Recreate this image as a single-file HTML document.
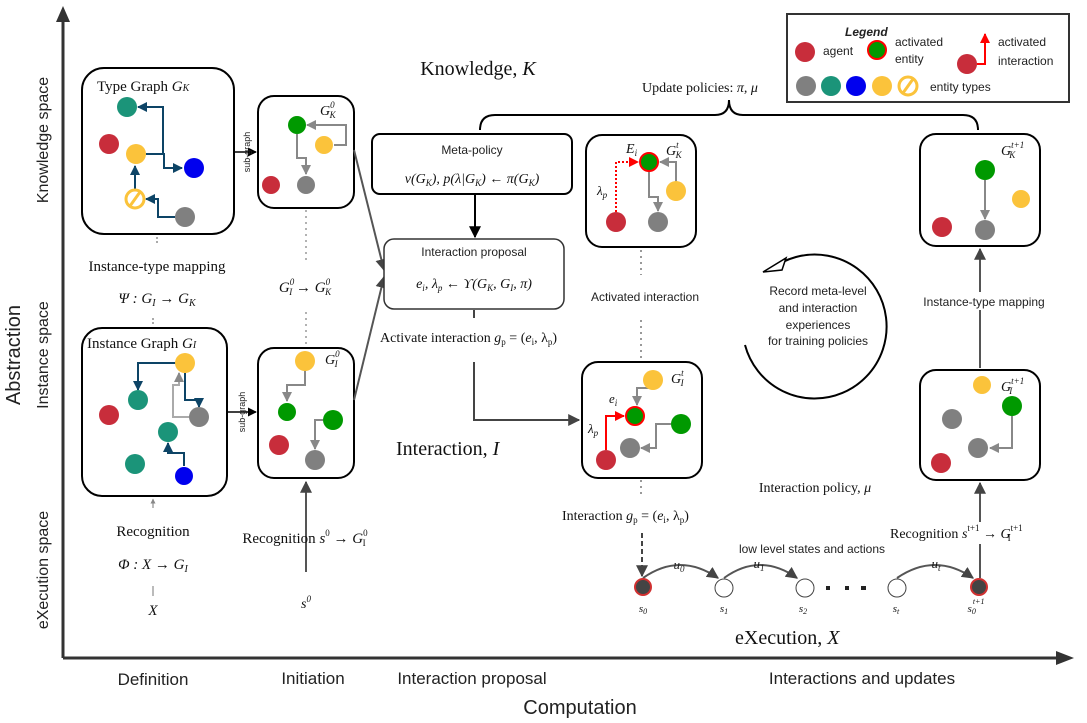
<!DOCTYPE html><html><head><meta charset="utf-8"><style>body{margin:0;background:#fff}svg{display:block}
.t{font-family:"Liberation Serif",serif;fill:#111}.s{font-family:"Liberation Sans",sans-serif;fill:#222}</style></head><body>
<svg width="1087" height="723" viewBox="0 0 1087 723" xmlns="http://www.w3.org/2000/svg">
<defs>
<marker id="a" viewBox="0 0 10 10" refX="9" refY="5" markerWidth="6" markerHeight="6" orient="auto"><path d="M0,0L10,5L0,10z" fill="#444"/></marker>
<marker id="b" viewBox="0 0 10 10" refX="9" refY="5" markerWidth="5" markerHeight="5" orient="auto"><path d="M0,0L10,5L0,10z" fill="#0d4466"/></marker>
<marker id="g" viewBox="0 0 10 10" refX="9" refY="5" markerWidth="5" markerHeight="5" orient="auto"><path d="M0,0L10,5L0,10z" fill="#888"/></marker>
<marker id="r" viewBox="0 0 10 10" refX="9" refY="5" markerWidth="5" markerHeight="5" orient="auto"><path d="M0,0L10,5L0,10z" fill="#f00"/></marker>
<marker id="k" viewBox="0 0 10 10" refX="9" refY="5" markerWidth="6" markerHeight="6" orient="auto"><path d="M0,0L10,5L0,10z" fill="#000"/></marker>
</defs>
<!-- axes -->
<line x1="63" y1="658" x2="63" y2="14" stroke="#333" stroke-width="3"/><path d="M56,22L63,6L70,22z" fill="#333"/>
<line x1="63" y1="658" x2="1062" y2="658" stroke="#333" stroke-width="3"/><path d="M1056,651L1074,658L1056,665z" fill="#333"/>
<text class="s" font-size="20" transform="translate(20,355) rotate(-90)" text-anchor="middle">Abstraction</text>
<text class="s" font-size="16" transform="translate(48,140) rotate(-90)" text-anchor="middle">Knowledge space</text>
<text class="s" font-size="16" transform="translate(48,355) rotate(-90)" text-anchor="middle">Instance space</text>
<text class="s" font-size="16" transform="translate(48,570) rotate(-90)" text-anchor="middle">eXecution space</text>
<text class="s" font-size="20" x="580" y="714" text-anchor="middle">Computation</text>
<text class="s" font-size="17" x="153" y="685" text-anchor="middle">Definition</text>
<text class="s" font-size="17" x="313" y="684" text-anchor="middle">Initiation</text>
<text class="s" font-size="17" x="472" y="684" text-anchor="middle">Interaction proposal</text>
<text class="s" font-size="17" x="862" y="684" text-anchor="middle">Interactions and updates</text>

<!-- Type graph -->
<rect x="82" y="68" width="152" height="166" rx="22" fill="#fff" stroke="#000" stroke-width="2"/>
<text class="t" font-size="15" x="97" y="91">Type Graph <tspan font-style="italic">G</tspan><tspan font-size="10" font-style="italic">K</tspan></text>
<g fill="none" stroke="#0d4466" stroke-width="2">
<path d="M146,154H163V107H138" marker-end="url(#b)"/>
<path d="M146,154H164V168H182" marker-end="url(#b)"/>
<path d="M135,189V166" marker-end="url(#b)"/>
<path d="M175,217H158V199H146" marker-end="url(#b)"/>
</g>
<circle cx="127" cy="107" r="10" fill="#1b9479"/><circle cx="109" cy="144" r="10" fill="#c82d3b"/>
<circle cx="136" cy="154" r="10" fill="#fbc33b"/><circle cx="194" cy="168" r="10" fill="#0000ee"/>
<circle cx="135" cy="199" r="9" fill="#fff" stroke="#fbc33b" stroke-width="3"/><line x1="130" y1="206" x2="140" y2="192" stroke="#fbc33b" stroke-width="3"/>
<circle cx="185" cy="217" r="10" fill="#808080"/>
<line x1="157" y1="237" x2="157" y2="245" stroke="#555" stroke-dasharray="2,2"/>
<text class="t" font-size="15" x="157" y="271" text-anchor="middle">Instance-type mapping</text>
<text class="t" font-size="15" x="157" y="303" text-anchor="middle" font-style="italic">Ψ : G<tspan font-size="10" dy="3">I</tspan><tspan dy="-3"> → G</tspan><tspan font-size="10" dy="3">K</tspan></text>
<line x1="153" y1="318" x2="153" y2="326" stroke="#555" stroke-dasharray="2,2"/>

<!-- Instance graph -->
<rect x="82" y="328" width="145" height="168" rx="20" fill="#fff" stroke="#000" stroke-width="2"/>
<text class="t" font-size="15" x="87" y="348">Instance Graph <tspan font-style="italic">G</tspan><tspan font-size="10" font-style="italic">I</tspan></text>
<g fill="none" stroke-width="2">
<path d="M176,363H138V390" stroke="#0d4466" marker-end="url(#b)"/>
<path d="M185,373V400H199V407" stroke="#0d4466" marker-end="url(#b)"/>
<path d="M189,417H173V385H179V373" stroke="#aaa" marker-end="url(#g)"/>
<path d="M184,466V453H168V443" stroke="#0d4466" marker-end="url(#b)"/>
</g>
<circle cx="185" cy="363" r="10" fill="#fbc33b"/><circle cx="138" cy="400" r="10" fill="#1b9479"/>
<circle cx="109" cy="415" r="10" fill="#c82d3b"/><circle cx="199" cy="417" r="10" fill="#808080"/>
<circle cx="168" cy="432" r="10" fill="#1b9479"/><circle cx="135" cy="464" r="10" fill="#1b9479"/>
<circle cx="184" cy="476" r="9" fill="#0000ee"/>
<line x1="153" y1="508" x2="153" y2="499" stroke="#777" marker-end="url(#g)"/>
<text class="t" font-size="15" x="153" y="536" text-anchor="middle">Recognition</text>
<text class="t" font-size="15" x="153" y="569" text-anchor="middle" font-style="italic">Φ : X → G<tspan font-size="10" dy="3">I</tspan></text>
<line x1="153" y1="586" x2="153" y2="596" stroke="#777"/>
<text class="t" font-size="15" x="153" y="615" text-anchor="middle" font-style="italic">X</text>

<!-- subgraph arrows -->
<line x1="234" y1="152" x2="256" y2="152" stroke="#000" stroke-width="1.5" marker-end="url(#k)"/>
<text class="s" font-size="9" transform="translate(250,152) rotate(-90)" text-anchor="middle">sub-graph</text>
<line x1="227" y1="412" x2="256" y2="412" stroke="#000" stroke-width="1.5" marker-end="url(#k)"/>
<text class="s" font-size="9" transform="translate(245,412) rotate(-90)" text-anchor="middle">sub-graph</text>

<!-- G_K^0 -->
<rect x="258" y="96" width="96" height="112" rx="16" fill="#fff" stroke="#000" stroke-width="2"/>
<text class="t" font-size="14" x="320" y="115" font-style="italic">G<tspan font-size="9" dy="-7">0</tspan><tspan font-size="9" dx="-5" dy="10">K</tspan></text>
<g fill="none" stroke="#888" stroke-width="2">
<path d="M334,145H346V125H307" marker-end="url(#g)"/>
<path d="M297,134V158H306V174" marker-end="url(#g)"/>
</g>
<circle cx="297" cy="125" r="9" fill="#009900"/><circle cx="324" cy="145" r="9" fill="#fbc33b"/>
<circle cx="271" cy="185" r="9" fill="#c82d3b"/><circle cx="306" cy="185" r="9" fill="#808080"/>
<line x1="306" y1="210" x2="306" y2="262" stroke="#666" stroke-dasharray="2,4"/>
<text class="t" font-size="15" x="305" y="292" text-anchor="middle" font-style="italic">G<tspan font-size="9" dy="-7">0</tspan><tspan font-size="9" dx="-5" dy="10">I</tspan><tspan dy="-3"> → G</tspan><tspan font-size="9" dy="-7">0</tspan><tspan font-size="9" dx="-5" dy="10">K</tspan></text>
<line x1="306" y1="312" x2="306" y2="346" stroke="#666" stroke-dasharray="2,4"/>

<!-- G_I^0 -->
<rect x="258" y="348" width="96" height="130" rx="16" fill="#fff" stroke="#000" stroke-width="2"/>
<text class="t" font-size="14" x="325" y="364" font-style="italic">G<tspan font-size="9" dy="-7">0</tspan><tspan font-size="9" dx="-5" dy="10">I</tspan></text>
<g fill="none" stroke="#888" stroke-width="2">
<path d="M305,370V385H287V401" marker-end="url(#g)"/>
<path d="M323,420H315V449" marker-end="url(#g)"/>
</g>
<circle cx="305" cy="361" r="10" fill="#fbc33b"/><circle cx="287" cy="412" r="9" fill="#009900"/>
<circle cx="333" cy="420" r="10" fill="#009900"/><circle cx="279" cy="445" r="10" fill="#c82d3b"/>
<circle cx="315" cy="460" r="10" fill="#808080"/>
<line x1="306" y1="572" x2="306" y2="482" stroke="#555" stroke-width="2" marker-end="url(#a)"/>
<text class="t" font-size="15" x="305" y="543" text-anchor="middle">Recognition <tspan font-style="italic">s</tspan><tspan font-size="9" dy="-7">0</tspan><tspan dy="7"> → </tspan><tspan font-style="italic">G</tspan><tspan font-size="9" dy="-7">0</tspan><tspan font-size="9" dx="-5" dy="10">I</tspan></text>
<text class="t" font-size="14" x="306" y="608" text-anchor="middle" font-style="italic">s<tspan font-size="9" dy="-6">0</tspan></text>

<!-- connectors to proposal -->
<line x1="354" y1="150" x2="384" y2="270" stroke="#555" stroke-width="2" marker-end="url(#a)"/>
<line x1="354" y1="400" x2="384" y2="277" stroke="#555" stroke-width="2" marker-end="url(#a)"/>

<text class="t" font-size="20" x="478" y="75" text-anchor="middle">Knowledge, <tspan font-style="italic">K</tspan></text>
<!-- Meta policy -->
<rect x="372" y="134" width="200" height="60" rx="8" fill="#fff" stroke="#000" stroke-width="2"/>
<text class="s" font-size="12" x="472" y="154" text-anchor="middle" fill="#444">Meta-policy</text>
<text class="t" font-size="14" x="472" y="183" text-anchor="middle" font-style="italic">v(G<tspan font-size="9" dy="3">K</tspan><tspan dy="-3">), p(λ|G</tspan><tspan font-size="9" dy="3">K</tspan><tspan dy="-3">) ← π(G</tspan><tspan font-size="9" dy="3">K</tspan><tspan dy="-3">)</tspan></text>
<line x1="475" y1="195" x2="475" y2="237" stroke="#000" stroke-width="2" marker-end="url(#k)"/>
<rect x="384" y="239" width="180" height="70" rx="10" fill="#fff" stroke="#333" stroke-width="1.5"/>
<text class="s" font-size="12" x="474" y="256" text-anchor="middle" fill="#444">Interaction proposal</text>
<text class="t" font-size="14" x="474" y="288" text-anchor="middle" font-style="italic">e<tspan font-size="9" dy="3">i</tspan><tspan dy="-3">, λ</tspan><tspan font-size="9" dy="3">p</tspan><tspan dy="-3"> ← ϒ(G</tspan><tspan font-size="9" dy="3">K</tspan><tspan dy="-3">, G</tspan><tspan font-size="9" dy="3">I</tspan><tspan dy="-3">, π)</tspan></text>
<line x1="474" y1="310" x2="474" y2="318" stroke="#444" stroke-width="2"/>
<text class="t" font-size="14" x="380" y="342">Activate interaction <tspan font-style="italic">g</tspan><tspan font-size="9" dy="3">p</tspan><tspan dy="-3"> = (</tspan><tspan font-style="italic">e</tspan><tspan font-size="9" dy="3">i</tspan><tspan dy="-3">, λ</tspan><tspan font-size="9" dy="3">p</tspan><tspan dy="-3">)</tspan></text>
<path d="M474,362V420H579" fill="none" stroke="#444" stroke-width="2" marker-end="url(#a)"/>
<text class="t" font-size="20" x="396" y="455">Interaction, <tspan font-style="italic">I</tspan></text>

<!-- brace -->
<path d="M480,130 Q480,115 495,115 H715 Q729,115 729,100 Q729,115 743,115 H963 Q978,115 978,130" fill="none" stroke="#000" stroke-width="2"/>
<text class="t" font-size="14" x="700" y="92" text-anchor="middle">Update policies: <tspan font-style="italic">π, μ</tspan></text>

<!-- G_K^t -->
<rect x="586" y="135" width="110" height="112" rx="16" fill="#fff" stroke="#000" stroke-width="2"/>
<text class="t" font-size="14" x="626" y="153" font-style="italic">E<tspan font-size="9" dy="3">i</tspan></text>
<text class="t" font-size="14" x="666" y="155" font-style="italic">G<tspan font-size="9" dy="-7">t</tspan><tspan font-size="9" dx="-3" dy="10">K</tspan></text>
<path d="M616,212V162H638" fill="none" stroke="#f00" stroke-width="2" stroke-dasharray="2,2" marker-end="url(#r)"/>
<text class="t" font-size="13" x="597" y="195" font-style="italic">λ<tspan font-size="9" dy="3">p</tspan></text>
<g fill="none" stroke="#888" stroke-width="2">
<path d="M676,182V162H660" marker-end="url(#g)"/>
<path d="M649,171V197H658V211" marker-end="url(#g)"/>
</g>
<circle cx="649" cy="162" r="9" fill="#009900" stroke="#f00" stroke-width="2"/>
<circle cx="676" cy="191" r="10" fill="#fbc33b"/><circle cx="616" cy="222" r="10" fill="#c82d3b"/><circle cx="658" cy="222" r="10" fill="#808080"/>
<line x1="641" y1="250" x2="641" y2="275" stroke="#333" stroke-dasharray="2,4"/>
<text class="s" font-size="12" x="645" y="301" text-anchor="middle">Activated interaction</text>
<line x1="641" y1="320" x2="641" y2="360" stroke="#333" stroke-dasharray="2,4"/>

<!-- G_I^t -->
<rect x="582" y="362" width="120" height="116" rx="16" fill="#fff" stroke="#000" stroke-width="2"/>
<text class="t" font-size="14" x="671" y="383" font-style="italic">G<tspan font-size="9" dy="-7">t</tspan><tspan font-size="9" dx="-3" dy="10">I</tspan></text>
<text class="t" font-size="13" x="609" y="403" font-style="italic">e<tspan font-size="9" dy="3">i</tspan></text>
<text class="t" font-size="13" x="588" y="433" font-style="italic">λ<tspan font-size="9" dy="3">p</tspan></text>
<path d="M606,450V416H624" fill="none" stroke="#f00" stroke-width="2" marker-end="url(#r)"/>
<g fill="none" stroke="#888" stroke-width="2">
<path d="M653,388H637V405" marker-end="url(#g)"/>
<path d="M671,424H656V448H641" marker-end="url(#g)"/>
</g>
<circle cx="653" cy="380" r="10" fill="#fbc33b"/><circle cx="635" cy="416" r="9" fill="#009900" stroke="#f00" stroke-width="2"/>
<circle cx="681" cy="424" r="10" fill="#009900"/><circle cx="630" cy="448" r="10" fill="#808080"/><circle cx="606" cy="460" r="10" fill="#c82d3b"/>
<line x1="641" y1="480" x2="641" y2="495" stroke="#333" stroke-dasharray="2,4"/>
<text class="t" font-size="14" x="562" y="520">Interaction <tspan font-style="italic">g</tspan><tspan font-size="9" dy="3">p</tspan><tspan dy="-3"> = (</tspan><tspan font-style="italic">e</tspan><tspan font-size="9" dy="3">i</tspan><tspan dy="-3">, λ</tspan><tspan font-size="9" dy="3">p</tspan><tspan dy="-3">)</tspan></text>
<line x1="642" y1="533" x2="642" y2="576" stroke="#444" stroke-width="2" stroke-dasharray="5,3" marker-end="url(#a)"/>

<!-- cycle -->
<path d="M745,345 A72,72 0 1 0 770,270" fill="none" stroke="#000" stroke-width="2"/>
<path d="M763,272L786,258L782,270z" fill="#fff" stroke="#000" stroke-width="1.5"/>
<g class="s" font-size="12" text-anchor="middle"><text x="818" y="295">Record meta-level</text><text x="818" y="312">and interaction</text><text x="818" y="329">experiences</text><text x="818" y="345">for training policies</text></g>
<text class="t" font-size="14" x="815" y="492" text-anchor="middle">Interaction policy, <tspan font-style="italic">μ</tspan></text>

<!-- G_K^{t+1} -->
<rect x="920" y="134" width="120" height="112" rx="16" fill="#fff" stroke="#000" stroke-width="2"/>
<text class="t" font-size="14" x="1001" y="155" font-style="italic">G<tspan font-size="9" dy="-7">t+1</tspan><tspan font-size="9" dx="-15" dy="10">K</tspan></text>
<line x1="985" y1="180" x2="985" y2="219" stroke="#888" stroke-width="2" marker-end="url(#g)"/>
<circle cx="985" cy="170" r="10" fill="#009900"/><circle cx="1021" cy="199" r="9" fill="#fbc33b"/>
<circle cx="942" cy="227" r="10" fill="#c82d3b"/><circle cx="985" cy="230" r="10" fill="#808080"/>
<line x1="980" y1="368" x2="980" y2="249" stroke="#555" stroke-width="2" marker-end="url(#a)"/>
<rect x="912" y="292" width="140" height="18" fill="#fff"/>
<text class="s" font-size="12" x="984" y="306" text-anchor="middle">Instance-type mapping</text>

<!-- G_I^{t+1} -->
<rect x="920" y="370" width="120" height="110" rx="16" fill="#fff" stroke="#000" stroke-width="2"/>
<text class="t" font-size="14" x="1001" y="391" font-style="italic">G<tspan font-size="9" dy="-7">t+1</tspan><tspan font-size="9" dx="-15" dy="10">I</tspan></text>
<path d="M1012,416V448H990" fill="none" stroke="#888" stroke-width="2" marker-end="url(#g)"/>
<circle cx="982" cy="385" r="9" fill="#fbc33b"/><circle cx="1012" cy="406" r="10" fill="#009900"/>
<circle cx="952" cy="419" r="10" fill="#808080"/><circle cx="978" cy="448" r="10" fill="#808080"/><circle cx="941" cy="463" r="10" fill="#c82d3b"/>
<line x1="980" y1="578" x2="980" y2="483" stroke="#555" stroke-width="2" marker-end="url(#a)"/>
<rect x="886" y="522" width="196" height="22" fill="#fff"/>
<text class="t" font-size="14" x="890" y="538">Recognition <tspan font-style="italic">s</tspan><tspan font-size="9" dy="-7">t+1</tspan><tspan dy="7"> → </tspan><tspan font-style="italic">G</tspan><tspan font-size="9" dy="-7">t+1</tspan><tspan font-size="9" dx="-15" dy="10">I</tspan></text>

<!-- execution chain -->
<text class="s" font-size="12" x="812" y="553" text-anchor="middle">low level states and actions</text>
<g fill="none" stroke="#555" stroke-width="2">
<path d="M643,578 Q680,552 718,578" marker-end="url(#a)"/>
<path d="M724,578 Q760,552 797,578" marker-end="url(#a)"/>
<path d="M897,578 Q935,552 973,578" marker-end="url(#a)"/>
</g>
<g class="t" font-size="13" font-style="italic" text-anchor="middle">
<text x="679" y="569" fill="#222">u<tspan font-size="9" dy="3">0</tspan></text>
<text x="759" y="568">u<tspan font-size="9" dy="3">1</tspan></text>
<text x="936" y="568">u<tspan font-size="9" dy="3">t</tspan></text>
</g>
<circle cx="643" cy="587" r="8" fill="#444" stroke="#d03030" stroke-width="2"/>
<circle cx="724" cy="588" r="9" fill="#fff" stroke="#444"/>
<circle cx="805" cy="588" r="9" fill="#fff" stroke="#444"/>
<circle cx="897" cy="588" r="9" fill="#fff" stroke="#444"/>
<circle cx="979" cy="587" r="8" fill="#444" stroke="#d03030" stroke-width="2"/>
<g fill="#222"><rect x="826" y="586" width="4" height="4"/><rect x="845" y="586" width="4" height="4"/><rect x="862" y="586" width="4" height="4"/><rect x="871" y="586" width="4" height="4" opacity="0"/><rect x="869" y="586" width="4" height="4" opacity="0"/></g>
<rect x="861" y="586" width="4" height="4" fill="#222"/>
<g class="t" font-size="11" font-style="italic" text-anchor="middle">
<text x="643" y="612">s<tspan font-size="8" dy="2">0</tspan></text>
<text x="724" y="612">s<tspan font-size="8" dy="2">1</tspan></text>
<text x="803" y="612">s<tspan font-size="8" dy="2">2</tspan></text>
<text x="896" y="612">s<tspan font-size="8" dy="2">t</tspan></text>
<text x="976" y="612">s<tspan font-size="8" dy="2">0</tspan><tspan font-size="8" dy="-10" dx="-3">t+1</tspan></text>
</g>
<text class="t" font-size="20" x="735" y="644">eXecution, <tspan font-style="italic">X</tspan></text>

<!-- legend -->
<rect x="787" y="14" width="282" height="88" fill="#fff" stroke="#333" stroke-width="2"/>
<text class="s" font-size="12" font-weight="bold" font-style="italic" x="845" y="36">Legend</text>
<circle cx="805" cy="52" r="10" fill="#c82d3b"/><text class="s" font-size="12" x="823" y="55">agent</text>
<circle cx="877" cy="50" r="9" fill="#009900" stroke="#f00" stroke-width="2"/>
<text class="s" font-size="12" x="895" y="46">activated</text><text class="s" font-size="12" x="895" y="63">entity</text>
<circle cx="967" cy="64" r="10" fill="#c82d3b"/>
<path d="M977,64H985V34" fill="none" stroke="#f00" stroke-width="2" marker-end="url(#r)"/>
<text class="s" font-size="12" x="998" y="46">activated</text><text class="s" font-size="12" x="998" y="65">interaction</text>
<circle cx="806" cy="86" r="10" fill="#808080"/><circle cx="831" cy="86" r="10" fill="#1b9479"/>
<circle cx="856" cy="86" r="10" fill="#0000ee"/><circle cx="882" cy="86" r="10" fill="#fbc33b"/>
<circle cx="908" cy="86" r="9" fill="#fff" stroke="#fbc33b" stroke-width="3"/><line x1="903" y1="93" x2="913" y2="79" stroke="#fbc33b" stroke-width="3"/>
<text class="s" font-size="12" x="930" y="91">entity types</text>
</svg>
</body></html>
